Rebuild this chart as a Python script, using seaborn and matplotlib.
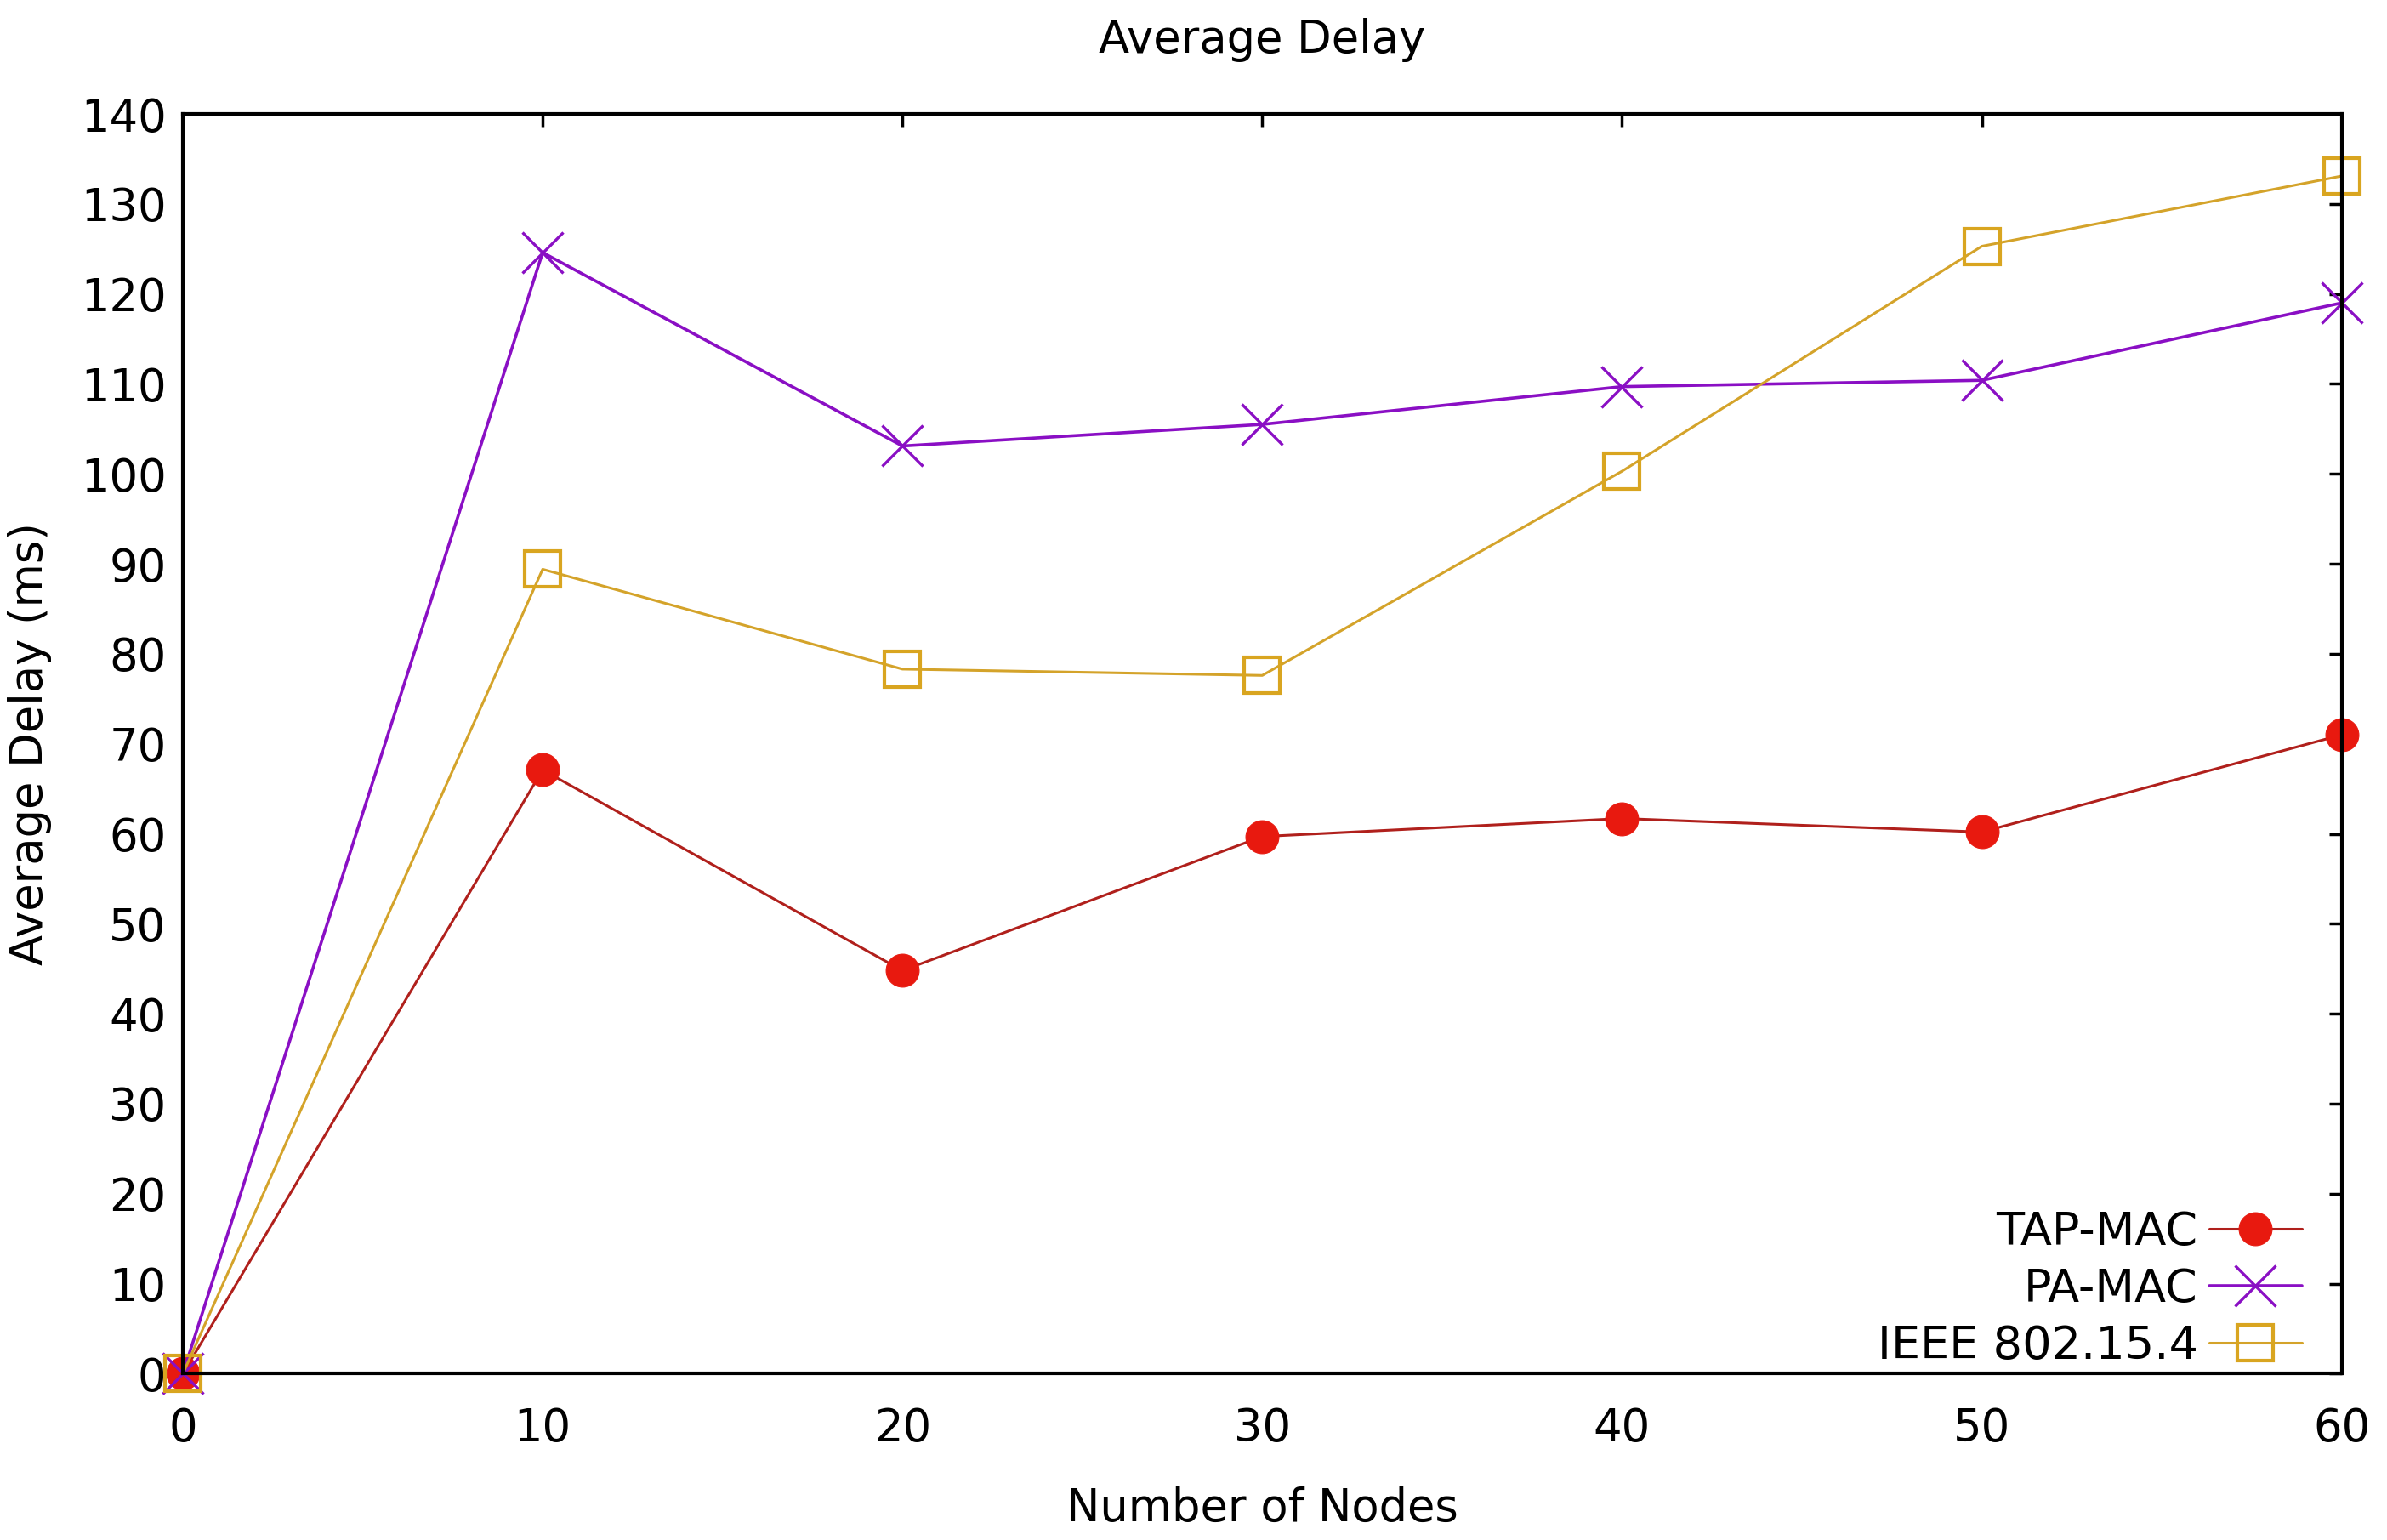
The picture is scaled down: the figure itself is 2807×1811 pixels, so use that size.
import matplotlib
matplotlib.use("Agg")
import matplotlib.pyplot as plt
import seaborn as sns

nodes = [0, 10, 20, 30, 40, 50, 60]
tap_mac = [0, 67.1, 44.8, 59.7, 61.7, 60.2, 71.0]
pa_mac = [0, 124.6, 103.1, 105.5, 109.7, 110.4, 119.0]
ieee = [0, 89.4, 78.3, 77.6, 100.3, 125.3, 133.1]
series_names = ["TAP-MAC", "PA-MAC", "IEEE 802.15.4"]
x_ticks = [0, 10, 20, 30, 40, 50, 60]
y_ticks = [0, 10, 20, 30, 40, 50, 60, 70, 80, 90, 100, 110, 120, 130, 140]

sns.set_theme(style="white")
plt.rcParams["font.family"] = ["DejaVu Sans"]
plt.rcParams["text.color"] = "black"
plt.rcParams["axes.labelcolor"] = "black"
plt.rcParams["xtick.color"] = "black"
plt.rcParams["ytick.color"] = "black"

fig = plt.figure(figsize=(28.07, 18.11), dpi=100)
ax = fig.add_axes([0.0766, 0.108, 0.9044, 0.818])

styles = [
    dict(color="#b0201c", marker="o", markersize=28, markerfacecolor="#e8190f",
         markeredgecolor="#e8190f", linewidth=2.2),
    dict(color="#8a0fc4", marker="x", markersize=34, markeredgewidth=2.4,
         markeredgecolor="#8a0fc4", linewidth=2.6),
    dict(color="#d4a32a", marker="s", markersize=30, markerfacecolor="none",
         markeredgecolor="#d9a520", markeredgewidth=3.0, linewidth=2.2),
]
for name, vals, st in zip(series_names, [tap_mac, pa_mac, ieee], styles):
    sns.lineplot(x=nodes, y=vals, ax=ax, label=name, clip_on=False, **st)

ax.set_xlim(0, 60)
ax.set_ylim(0, 140)
ax.set_xticks(x_ticks)
ax.set_yticks(y_ticks)
ax.tick_params(direction="in", length=11, width=2.5, top=True, right=True,
               labelsize=38, pad=14, colors="black")
ax.tick_params(axis="x", pad=28)
for s in ax.spines.values():
    s.set_visible(True)
    s.set_linewidth(3)
    s.set_color("black")
ax.grid(False)

ax.set_title("Average Delay", fontsize=38, pad=52, color="black")
ax.set_xlabel("Number of Nodes", fontsize=38, labelpad=30)
ax.set_ylabel("Average Delay (ms)", fontsize=38, labelpad=24)

leg = ax.legend(loc="lower right", markerfirst=False, frameon=False, fontsize=39,
                handlelength=2.0, handletextpad=0.25, labelspacing=0.27,
                borderaxespad=0.0, bbox_to_anchor=(0.99, -0.01))
for t in leg.get_texts():
    t.set_ha("right")
    t.set_color("black")

fig.savefig("out.png", dpi=100)
